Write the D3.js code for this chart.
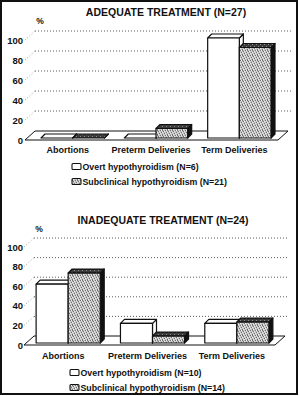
<!DOCTYPE html>
<html>
<head>
<meta charset="utf-8">
<script src="https://cdn.jsdelivr.net/npm/d3@7"></script>
<style>
  html, body { margin: 0; padding: 0; background: #fff; }
  svg { display: block; }
  text { font-family: "Liberation Sans", Arial, sans-serif; font-weight: bold; fill: #111; }
</style>
</head>
<body>
<svg id="chart" width="299" height="396"></svg>
<script>
// ---------- DATA ----------
const categories = ["Abortions", "Preterm Deliveries", "Term Deliveries"];
const seriesKeys = ["overt", "subclinical"];
const adequateOvert = [0, 0, 100];
const adequateSubclinical = [0, 9.5, 90.5];
const inadequateOvert = [60, 20, 20];
const inadequateSubclinical = [71.4, 7.1, 21.4];
const yTicks = [0, 20, 40, 60, 80, 100];
const titles = ["ADEQUATE TREATMENT (N=27)", "INADEQUATE TREATMENT (N=24)"];
const legendAdequate = ["Overt hypothyroidism (N=6)", "Subclinical hypothyroidism (N=21)"];
const legendInadequate = ["Overt hypothyroidism (N=10)", "Subclinical hypothyroidism (N=14)"];

// ---------- LAYOUT ----------
const svg = d3.select("#chart");
const defs = svg.append("defs");

// stipple patterns (deterministic)
function stipple(id, size, base, layers) {
  const p = defs.append("pattern").attr("id", id).attr("patternUnits", "userSpaceOnUse")
    .attr("width", size).attr("height", size);
  p.append("rect").attr("width", size).attr("height", size).attr("fill", base);
  layers.forEach(([col, dots]) => dots.forEach(([x, y]) =>
    p.append("rect").attr("x", x).attr("y", y).attr("width", 1).attr("height", 1).attr("fill", col)));
}
stipple("grey", 5, "#c4c4c4", [
  ["#707070", [[0,0],[3,1],[1,2],[4,3],[2,4],[2,0]]],
  ["#ececec", [[1,0],[4,1],[0,3],[3,4],[2,2]]]
]);
stipple("greyDark", 4, "#3a3a3a", [["#8a8a8a", [[0,0],[2,2]]]]);

// frame
svg.append("rect").attr("x", 1).attr("y", 1).attr("width", 296).attr("height", 393)
  .attr("fill", "none").attr("stroke", "#111").attr("stroke-width", 2);

const panels = [
  { title: titles[0], overt: adequateOvert, sub: adequateSubclinical, legend: legendAdequate,
    x0: 25, y0: 140, floorW: 253, xRange: [31, 281], k: 1.0, gridEnd: 291,
    titleX: 166, titleY: 16, pctY: 24, labelY: 153, legendX: 72, legendY: [170, 185] },
  { title: titles[1], overt: inadequateOvert, sub: inadequateSubclinical, legend: legendInadequate,
    x0: 24, y0: 345, floorW: 251, xRange: [26, 279], k: 0.98, gridEnd: 288,
    titleX: 163, titleY: 224, pctY: 232, labelY: 359, legendX: 70, legendY: [376, 391] }
];

const DX = 10, DY = -9;   // floor depth
const bdx = 4, bdy = -4;  // bar depth

panels.forEach(P => {
  const g = svg.append("g");
  const y = d3.scaleLinear().domain([0, 100]).range([P.y0, P.y0 - 100 * P.k]);
  const x = d3.scaleBand().domain(categories).range(P.xRange).paddingInner(0.24).paddingOuter(0.12);
  const xs = d3.scaleBand().domain(seriesKeys).range([0, x.bandwidth()]);

  // title
  g.append("text").attr("x", P.titleX).attr("y", P.titleY).attr("text-anchor", "middle")
    .attr("font-size", 10.5).text(P.title);
  g.append("text").attr("x", P.x0 + 15).attr("y", P.pctY).attr("text-anchor", "middle")
    .attr("font-size", 8.5).text("%");

  // grid
  yTicks.filter(v => v > 0).forEach(v => {
    g.append("line").attr("x1", P.x0).attr("y1", y(v)).attr("x2", P.x0 + DX).attr("y2", y(v) + DY)
      .attr("stroke", "#888").attr("stroke-width", 0.8).attr("stroke-dasharray", "1,2");
    g.append("line").attr("x1", P.x0 + DX).attr("y1", y(v) + DY).attr("x2", P.gridEnd).attr("y2", y(v) + DY)
      .attr("stroke", "#333").attr("stroke-width", 0.8).attr("stroke-dasharray", "1,2");
  });
  // tick labels
  yTicks.forEach(v => {
    g.append("text").attr("x", 23).attr("y", y(v) + 3.5).attr("text-anchor", "end")
      .attr("font-size", 9.5).text(v);
  });

  // floor
  const f = [[P.x0, P.y0], [P.x0 + P.floorW, P.y0], [P.x0 + P.floorW + DX, P.y0 + DY], [P.x0 + DX, P.y0 + DY]];
  g.append("polygon").attr("points", f.map(p => p.join(",")).join(" "))
    .attr("fill", "#fff").attr("stroke", "#111").attr("stroke-width", 1);

  // bars
  const base = P.y0 - 2;
  categories.forEach((c, i) => {
    [["overt", P.overt[i]], ["subclinical", P.sub[i]]].forEach(([s, v]) => {
      const bx = x(c) + xs(s), w = xs.bandwidth();
      const top = y(v) - (P.y0 - base);
      const front = s === "overt" ? "#fff" : "url(#grey)";
      const topFill = s === "overt" ? "#fff" : "url(#greyDark)";
      const sideFill = s === "overt" ? "#fff" : "#111";
      const bg = g.append("g").attr("stroke", "#111").attr("stroke-width", 1.2).attr("stroke-linejoin", "round");
      bg.append("polygon").attr("points", [[bx + w, top], [bx + w + bdx, top + bdy], [bx + w + bdx, base + bdy], [bx + w, base]].map(p => p.join(",")).join(" "))
        .attr("fill", sideFill);
      bg.append("polygon").attr("points", [[bx, top], [bx + bdx, top + bdy], [bx + w + bdx, top + bdy], [bx + w, top]].map(p => p.join(",")).join(" "))
        .attr("fill", topFill);
      bg.append("rect").attr("x", bx).attr("y", top).attr("width", w).attr("height", Math.max(0, base - top))
        .attr("fill", front);
    });
    // category label
    g.append("text").attr("x", x(c) + x.bandwidth() / 2 - 5).attr("y", P.labelY).attr("text-anchor", "middle")
      .attr("font-size", 9).text(c);
  });

  // legend
  P.legend.forEach((t, j) => {
    const ly = P.legendY[j];
    g.append("rect").attr("x", P.legendX).attr("y", ly - 6.5).attr("width", 9).attr("height", 6).attr("rx", 1)
      .attr("fill", j === 0 ? "#fff" : "url(#grey)").attr("stroke", "#111").attr("stroke-width", 1.1);
    g.append("text").attr("x", P.legendX + 10.5).attr("y", ly).attr("font-size", 8.8).text(t);
  });
});
</script>
</body>
</html>
